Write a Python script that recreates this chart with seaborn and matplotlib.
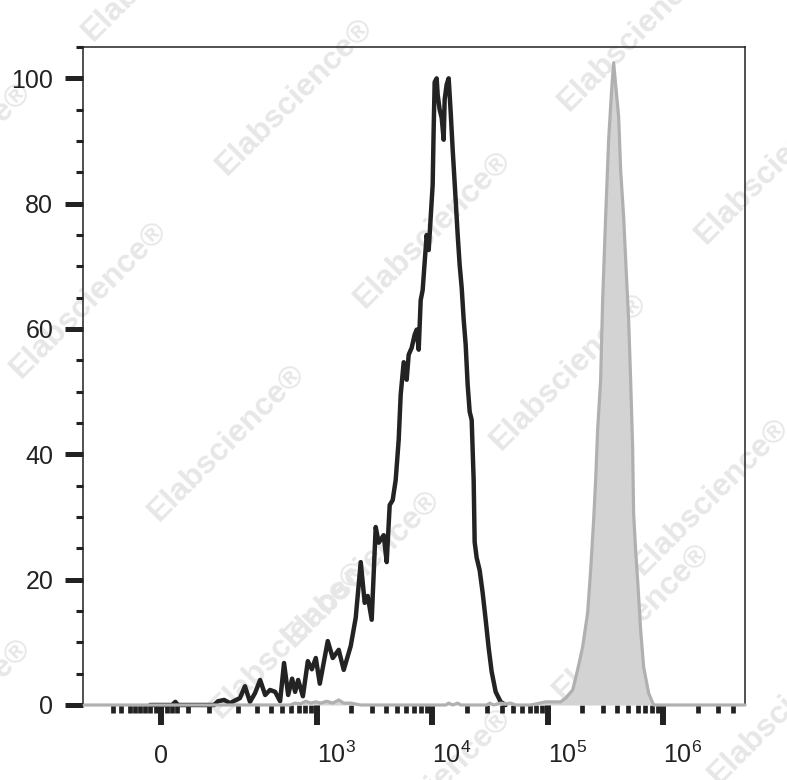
import numpy as np
import matplotlib
matplotlib.use("Agg")
import matplotlib.pyplot as plt
import seaborn as sns

# ----------------------------------------
# DATA (fluorescence intensity vs % of max)
# ----------------------------------------

# stained sample (black outline)
black_x = [-20, 20, 26, 31, 114, 126, 146, 167, 191, 208, 232, 258, 287, 319, 354,
           391, 434, 480, 520, 565, 612, 650, 691, 760, 839, 909, 984, 1066, 1250,
           1381, 1556, 1719, 1976, 2183, 2413, 2612, 2774, 3003, 3252, 3452, 3814,
           4049, 4298, 4563, 4843, 5142, 5350, 5680, 6030, 6275, 6660, 7070, 7360,
           7660, 7970, 8290, 8630, 8980, 9350, 9720, 10120, 10320, 10530, 10960,
           11180, 11630, 12110, 12600, 12850, 13370, 13920, 14480, 15080, 16000,
           16660, 17330, 18040, 18770, 19530, 20320, 21150, 22010, 22900, 23360,
           24310, 25810, 27400, 29090, 30880, 32780, 35500, 39220, 43320]
black_y = [0, 0, 0.5, 0, 0, 0.6, 0.8, 0.3, 0.8, 1.1, 3.0, 0.5, 1.9, 4.0, 1.6,
           2.4, 2.1, 0.6, 6.7, 1.6, 4.2, 2.1, 4.0, 1.4, 7.0, 5.7, 7.5, 3.4, 10.2,
           7.5, 8.8, 5.6, 9.4, 13.9, 22.8, 16.3, 17.4, 13.6, 28.4, 25.9, 27.1,
           22.8, 31.9, 32.7, 35.9, 42.3, 49.5, 54.7, 51.9, 55.9, 57.0, 59.1, 59.9,
           56.7, 64.6, 66.2, 70.7, 75.0, 72.6, 77.7, 83.0, 91.8, 99.4, 100.0,
           97.4, 95.0, 93.7, 90.2, 96.6, 99.0, 100.0, 94.7, 88.6, 80.6,
           75.0, 70.2, 66.6, 61.5, 57.5, 51.1, 46.8, 45.5, 35.9, 26.0,
           23.5, 21.5, 17.9, 13.6, 9.1, 5.3, 2.1, 0.5, 0]

# unstained / isotype control (grey filled)
gray_x = [-200, 588, 651, 725, 806, 891, 984, 1087, 1225, 1381, 1556, 1719, 1976,
          2413, 13110, 13920, 15080, 16660, 17680, 29670, 31500, 34120, 39220,
          43320, 47860, 52870, 71280, 96100, 129600, 143100, 164600, 181800,
          200900, 221800, 235500, 250000, 260200, 270700, 287400, 293200, 299100,
          317500, 337100, 357900, 372400, 387500, 411400, 428100, 454400, 482500,
          502000, 522400, 543500, 554400, 576900, 600300, 637500, 676800, 747600,
          826000, 5100000]
gray_y = [0, 0, 0.3, 0.2, 0.6, 0.3, 0.5, 0.3, 0.6, 0.3, 0.8, 0.3, 0.3,
          0, 0, 0.3, 0, 0.3, 0, 0, 0.3, 0, 0.3,
          0.2, 0.3, 0, 0, 0.5, 0.5, 1.1, 2.4, 5.6,
          9.3, 14.7, 21.5, 29.5, 35.9, 43.9, 51.9, 58.3, 64.6,
          77.9, 90.2, 98.2, 102.5, 99.0, 93.9, 85.4, 77.9, 67.8,
          61.5, 51.9, 41.2, 30.6, 24.7, 20.0, 12.0, 6.1, 1.9,
          0, 0]

x_major = [0, 1e3, 1e4, 1e5, 1e6]
x_major_labels = ["0", r"$\mathregular{10^{3}}$", r"$\mathregular{10^{4}}$",
                  r"$\mathregular{10^{5}}$", r"$\mathregular{10^{6}}$"]
x_minor = ([-100, -80, -60, -50, -40, -30, -20, -10, 10, 20, 30, 50]
           + [m * 10 ** k for k in range(2, 6) for m in range(2 if k > 2 else 1, 10)]
           + [2e6, 3e6, 4e6])
y_major = [0, 20, 40, 60, 80, 100]
y_minor = [5, 10, 15, 25, 30, 35, 45, 50, 55, 65, 70, 75, 85, 90, 95, 105]

wm_centers = [(161, -37), (295, 97), (433, 230), (569, 372), (711, 497),
              (-47, 161), (89, 300), (227, 443), (362, 569), (637, 33),
              (774, 166), (632, 622), (787, 706), (433, 787), (-47, 717),
              (289, 640)]

# ----------------------------------------
# STYLE
# ----------------------------------------

sns.set_style("ticks")
plt.rcParams["font.family"] = ["Liberation Sans", "DejaVu Sans"]
plt.rcParams["mathtext.fontset"] = "custom"
plt.rcParams["mathtext.rm"] = "Liberation Sans"
plt.rcParams["mathtext.it"] = "Liberation Sans:italic"
plt.rcParams["mathtext.bf"] = "Liberation Sans:bold"

W, H = 787, 780
fig = plt.figure(figsize=(W / 100, H / 100), dpi=100)
ax = fig.add_axes([83 / W, 75 / H, 662 / W, 658 / H])
ax.patch.set_alpha(0)

# watermark
for cx, cy in wm_centers:
    fig.text(cx / W, 1 - cy / H, "Elabscience®", rotation=45, rotation_mode="anchor",
             ha="center", va="center", fontsize=23, fontweight="bold",
             color="#e7e7e7", zorder=-5)

# ----------------------------------------
# PLOT
# ----------------------------------------

sns.lineplot(x=black_x, y=black_y, ax=ax, color="#232323", lw=3.2, sort=False,
             estimator=None, clip_on=False, zorder=3)
ax.fill_between(gray_x, gray_y, 0, color="#d3d3d3", lw=0, zorder=4)
sns.lineplot(x=gray_x, y=gray_y, ax=ax, color="#b0b0b0", lw=2.3, sort=False,
             estimator=None, clip_on=False, zorder=5)

# biexponential-like axis
C = 90.5
ax.set_xscale("function", functions=(lambda v: np.arcsinh(np.asarray(v) / C),
                                     lambda v: C * np.sinh(np.asarray(v))))
ax.set_xlim(-205, 5.1e6)
ax.set_ylim(0, 105)

ax.set_xticks(x_major, x_major_labels)
ax.set_xticks(x_minor, minor=True)
ax.set_yticks(y_major, [str(v) for v in y_major])
ax.set_yticks(y_minor, minor=True)

ax.tick_params(axis="x", which="major", length=14.5, width=4.3, color="#222222",
               pad=27, labelsize=18, labelcolor="#222222")
ax.tick_params(axis="x", which="minor", length=6, width=3.4, color="#222222")
ax.tick_params(axis="y", which="major", length=13, width=3.6, color="#222222",
               pad=8.5, labelsize=18, labelcolor="#222222")
ax.tick_params(axis="y", which="minor", length=5, width=2.2, color="#222222")

for lbl in ax.get_xticklabels():
    lbl.set_va("baseline")
for lbl in ax.get_xticklabels()[1:]:
    lbl.set_ha("left")

for s in ["left", "top", "right"]:
    ax.spines[s].set_linewidth(1.1)
    ax.spines[s].set_color("#222222")
ax.spines["bottom"].set_visible(False)

ax.set_xlabel("")
ax.set_ylabel("")

fig.savefig("out.png", dpi=100)
